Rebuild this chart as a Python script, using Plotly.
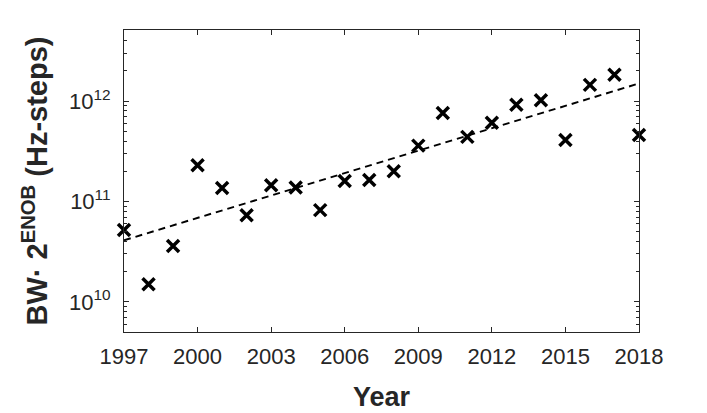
import plotly.graph_objects as go

years = list(range(1997, 2019))
values = [5.2e10, 1.5e10, 3.6e10, 2.3e11, 1.36e11, 7.3e10, 1.45e11, 1.38e11, 8.2e10,
          1.6e11, 1.64e11, 2.0e11, 3.6e11, 7.6e11, 4.4e11, 6.1e11, 9.2e11, 1.02e12,
          4.1e11, 1.45e12, 1.83e12, 4.6e11]
trend_years = [1997, 2018]
trend_values = [4.1e10, 1.5e12]
x_ticks = [1997, 2000, 2003, 2006, 2009, 2012, 2015, 2018]
y_exponents = [10, 11, 12]
y_decades = [9, 10, 11, 12]

axis_col = "#262626"
font_family = "Liberation Sans, Arial, sans-serif"

major_vals = [10.0 ** e for e in y_exponents]
major_text = ["10<sup>%d</sup>" % e for e in y_exponents]
minor_vals = [m * 10.0 ** d for d in y_decades for m in range(2, 10)]

fig = go.Figure()
fig.add_trace(go.Scatter(x=trend_years, y=trend_values, mode="lines",
                         line=dict(color="black", width=2, dash="7px,5px"),
                         showlegend=False, hoverinfo="skip"))
fig.add_trace(go.Scatter(x=years, y=values, mode="markers",
                         marker=dict(symbol="x-thin", size=12, color="black",
                                     line=dict(color="black", width=3.5)),
                         showlegend=False, cliponaxis=False))

fig.update_layout(
    width=707, height=413,
    margin=dict(l=124, r=68, t=30, b=81),
    paper_bgcolor="white", plot_bgcolor="white",
    font=dict(family=font_family, color=axis_col),
)
fig.update_xaxes(
    range=[1997, 2018], tickvals=x_ticks, ticktext=[str(t) for t in x_ticks],
    ticks="inside", ticklen=5, tickcolor=axis_col, mirror="allticks",
    showline=True, linecolor=axis_col, linewidth=1, showgrid=False, zeroline=False,
    tickfont=dict(size=22, color=axis_col), ticklabelstandoff=5, automargin=False,
    title=dict(text="<b>Year</b>", font=dict(size=27, color=axis_col), standoff=18),
)
fig.update_yaxes(
    type="log", range=[9.7, 12.708], tickvals=major_vals, ticktext=major_text,
    ticks="inside", ticklen=5, tickcolor=axis_col, mirror="allticks",
    showline=True, linecolor=axis_col, linewidth=1, showgrid=False, zeroline=False,
    tickfont=dict(size=22, color=axis_col), ticklabelstandoff=8, automargin=False,
    minor=dict(ticks="inside", ticklen=3, tickcolor=axis_col, showgrid=False,
               tickvals=minor_vals),
    title=dict(text="<b>BW\u00b7 2<sup>ENOB</sup> (Hz-steps)</b>",
               font=dict(size=29, color=axis_col), standoff=12),
)
fig.write_html("out.html")
